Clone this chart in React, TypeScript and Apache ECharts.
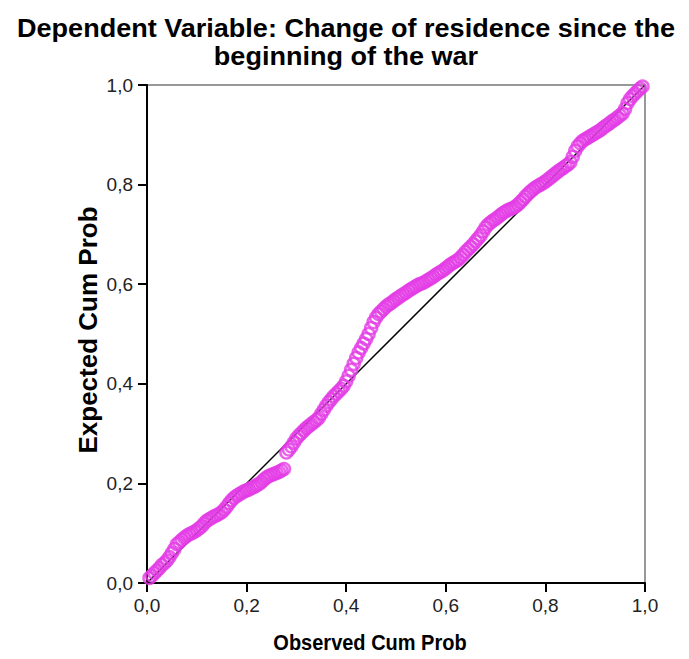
import React, { useEffect, useRef } from "react";
import * as echarts from "echarts";

const titleLines = ["Dependent Variable: Change of residence since the", "beginning of the war"];
const xAxisName = "Observed Cum Prob";
const yAxisName = "Expected Cum Prob";
const tickValues = [0, 0.2, 0.4, 0.6, 0.8, 1.0];
const referenceLine = [[0, 0], [1, 1]];

const observedCumProb = [
  0.005, 0.010, 0.015, 0.020, 0.025, 0.030, 0.035, 0.040, 0.045, 0.050,
  0.055, 0.060, 0.065, 0.070, 0.075, 0.080, 0.085, 0.090, 0.095, 0.100,
  0.105, 0.110, 0.115, 0.120, 0.125, 0.130, 0.135, 0.140, 0.145, 0.150,
  0.155, 0.160, 0.165, 0.170, 0.175, 0.180, 0.185, 0.190, 0.195, 0.200,
  0.205, 0.210, 0.215, 0.220, 0.225, 0.230, 0.235, 0.240, 0.245, 0.250,
  0.255, 0.260, 0.265, 0.270, 0.275, 0.280, 0.285, 0.290, 0.295, 0.300,
  0.305, 0.310, 0.315, 0.320, 0.325, 0.330, 0.335, 0.340, 0.345, 0.350,
  0.355, 0.360, 0.365, 0.370, 0.375, 0.380, 0.385, 0.390, 0.395, 0.400,
  0.405, 0.410, 0.415, 0.420, 0.425, 0.430, 0.435, 0.440, 0.445, 0.450,
  0.455, 0.460, 0.465, 0.470, 0.475, 0.480, 0.485, 0.490, 0.495, 0.500,
  0.505, 0.510, 0.515, 0.520, 0.525, 0.530, 0.535, 0.540, 0.545, 0.550,
  0.555, 0.560, 0.565, 0.570, 0.575, 0.580, 0.585, 0.590, 0.595, 0.600,
  0.605, 0.610, 0.615, 0.620, 0.625, 0.630, 0.635, 0.640, 0.645, 0.650,
  0.655, 0.660, 0.665, 0.670, 0.675, 0.680, 0.685, 0.690, 0.695, 0.700,
  0.705, 0.710, 0.715, 0.720, 0.725, 0.730, 0.735, 0.740, 0.745, 0.750,
  0.755, 0.760, 0.765, 0.770, 0.775, 0.780, 0.785, 0.790, 0.795, 0.800,
  0.805, 0.810, 0.815, 0.820, 0.825, 0.830, 0.835, 0.840, 0.845, 0.850,
  0.855, 0.860, 0.865, 0.870, 0.875, 0.880, 0.885, 0.890, 0.895, 0.900,
  0.905, 0.910, 0.915, 0.920, 0.925, 0.930, 0.935, 0.940, 0.945, 0.950,
  0.955, 0.960, 0.965, 0.970, 0.975, 0.980, 0.985, 0.990, 0.995,
];

const expectedCumProb = [
  0.010, 0.015, 0.020, 0.025, 0.030, 0.036, 0.040, 0.045, 0.052, 0.060,
  0.068, 0.078, 0.082, 0.087, 0.091, 0.095, 0.098, 0.100, 0.103, 0.106,
  0.110, 0.114, 0.120, 0.125, 0.128, 0.131, 0.134, 0.136, 0.139, 0.142,
  0.147, 0.153, 0.160, 0.166, 0.171, 0.175, 0.178, 0.181, 0.184, 0.186,
  0.188, 0.191, 0.193, 0.196, 0.199, 0.203, 0.208, 0.212, 0.215, 0.217,
  0.219, 0.221, 0.223, 0.226, 0.229, 0.262, 0.268, 0.274, 0.282, 0.290,
  0.296, 0.301, 0.306, 0.311, 0.315, 0.319, 0.323, 0.327, 0.332, 0.340,
  0.348, 0.356, 0.363, 0.369, 0.375, 0.380, 0.385, 0.390, 0.396, 0.405,
  0.416, 0.428, 0.440, 0.452, 0.463, 0.472, 0.481, 0.490, 0.500, 0.512,
  0.524, 0.533, 0.540, 0.545, 0.550, 0.555, 0.559, 0.562, 0.566, 0.570,
  0.573, 0.577, 0.580, 0.583, 0.587, 0.590, 0.593, 0.596, 0.599, 0.601,
  0.603, 0.606, 0.609, 0.612, 0.615, 0.619, 0.622, 0.625, 0.628, 0.632,
  0.636, 0.640, 0.643, 0.646, 0.649, 0.654, 0.659, 0.665, 0.670, 0.675,
  0.680, 0.686, 0.692, 0.698, 0.706, 0.714, 0.720, 0.724, 0.728, 0.731,
  0.735, 0.739, 0.743, 0.746, 0.749, 0.751, 0.753, 0.756, 0.760, 0.765,
  0.770, 0.776, 0.781, 0.786, 0.790, 0.794, 0.797, 0.800, 0.803, 0.806,
  0.810, 0.814, 0.818, 0.822, 0.826, 0.830, 0.833, 0.837, 0.840, 0.845,
  0.856, 0.868, 0.877, 0.883, 0.888, 0.891, 0.894, 0.897, 0.900, 0.903,
  0.906, 0.909, 0.913, 0.917, 0.920, 0.924, 0.928, 0.931, 0.935, 0.939,
  0.943, 0.952, 0.964, 0.972, 0.978, 0.983, 0.988, 0.993, 0.997,
];

const FONT = "'Liberation Sans', Arial, sans-serif";

export default function App() {
  const ref = useRef<HTMLDivElement>(null);
  useEffect(() => {
    if (!ref.current) return;
    const chart = echarts.init(ref.current, null, { renderer: "svg" });
    const points = observedCumProb.map((x, i) => [x, expectedCumProb[i]]);
    const fmt = (v: number) => v.toFixed(1).replace(".", ",");
    const axisCommon = {
      type: "value",
      min: tickValues[0],
      max: tickValues[tickValues.length - 1],
      interval: 0.2,
      axisLine: { show: true, lineStyle: { color: "#000", width: 2 } },
      axisTick: { show: true, inside: false, length: 9, lineStyle: { color: "#000", width: 2 } },
      splitLine: { show: false },
      axisLabel: { formatter: fmt, color: "#222", fontSize: 19, fontFamily: FONT },
    };
    const titleTexts = titleLines.map((line, i) => ({
      type: "text", x: 346, y: 28 + i * 28, scaleX: 1.04,
      style: {
        text: line, font: `bold 26px ${FONT}`, fill: "#000",
        textAlign: "center", textVerticalAlign: "middle",
      },
    }));
    chart.setOption({
      animation: false,
      backgroundColor: "#fff",
      grid: {
        left: 147, right: 44, top: 85, bottom: 76,
        show: true, borderColor: "#777", borderWidth: 1.5, backgroundColor: "transparent",
      },
      xAxis: { ...axisCommon, axisLabel: { ...axisCommon.axisLabel, margin: 13 } },
      yAxis: { ...axisCommon, axisLabel: { ...axisCommon.axisLabel, margin: 14 } },
      graphic: [
        ...titleTexts,
        {
          type: "text", x: 370, y: 642, scaleY: 1.1,
          style: { text: xAxisName, font: `bold 20px ${FONT}`, fill: "#000", textAlign: "center", textVerticalAlign: "middle" },
        },
        {
          type: "text", x: 88, y: 330, rotation: Math.PI / 2,
          style: { text: yAxisName, font: `bold 26px ${FONT}`, fill: "#000", textAlign: "center", textVerticalAlign: "middle" },
        },
      ],
      series: [
        {
          type: "line", data: referenceLine, symbol: "none", silent: true, z: 1,
          lineStyle: { color: "#000", width: 1.5 },
        },
        {
          type: "scatter", data: points, symbol: "circle", symbolSize: 12, z: 2,
          itemStyle: { color: "transparent", borderColor: "#e43ce6", borderWidth: 2.5 },
        },
      ],
    });
    return () => chart.dispose();
  }, []);
  return <div ref={ref} style={{ width: 689, height: 659, position: "absolute", left: 0, top: 0 }} />;
}
